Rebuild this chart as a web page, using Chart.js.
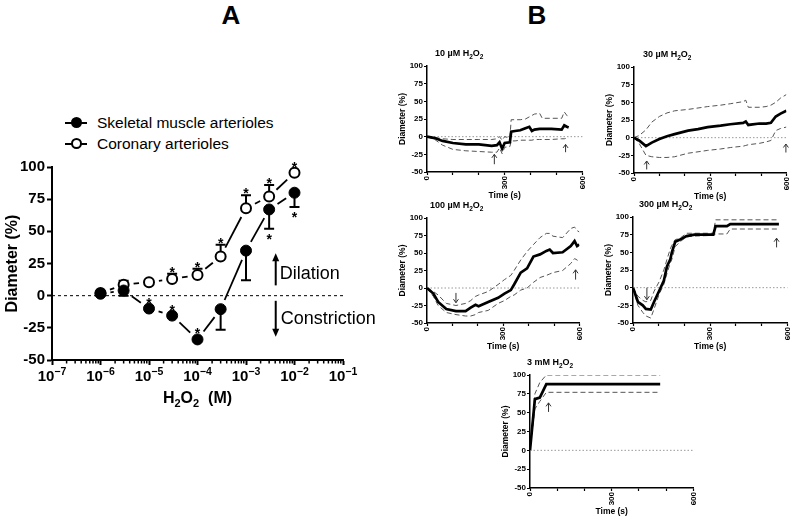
<!DOCTYPE html>
<html>
<head>
<meta charset="utf-8">
<script src="https://cdn.jsdelivr.net/npm/chart.js@4"></script>
<style>
  html, body { margin: 0; padding: 0; background: #fff; }
  body { width: 798px; height: 521px; position: relative; overflow: hidden; font-family: "Liberation Sans", Arial, sans-serif; color: #000; }
  .box { position: absolute; }
  .letter { position: absolute; top: 0; width: 40px; text-align: center; font-weight: bold; font-size: 26px; line-height: 30px; }
  .legend { position: absolute; left: 65px; top: 112px; font-size: 15.5px; }
  .legend .row { position: relative; height: 21px; line-height: 21px; padding-left: 32px; white-space: nowrap; }
  .legend .ln { position: absolute; left: 0; top: 9.5px; width: 22px; height: 2px; background: #000; }
  .legend .dot { position: absolute; left: 5.5px; top: 5px; width: 11px; height: 11px; border-radius: 50%; box-sizing: border-box; }
  .legend .filled { background: #000; }
  .legend .open { background: #fff; border: 2px solid #000; }
</style>
</head>
<body>
<div class="letter" style="left:211px;">A</div>
<div class="letter" style="left:517px;">B</div>

<div class="legend">
  <div class="row"><span class="ln"></span><span class="dot filled"></span>Skeletal muscle arterioles</div>
  <div class="row"><span class="ln"></span><span class="dot open"></span>Coronary arterioles</div>
</div>

<div class="box" style="left:0px; top:150px;"><canvas id="doseChart" width="400" height="265"></canvas></div>
<div class="box" id="box10"><canvas id="c10"></canvas></div>
<div class="box" id="box30"><canvas id="c30"></canvas></div>
<div class="box" id="box100"><canvas id="c100"></canvas></div>
<div class="box" id="box300"><canvas id="c300"></canvas></div>
<div class="box" id="box3m"><canvas id="c3m"></canvas></div>

<script>
// ---- Panel A data ----
const concentrations = [1e-6, 3e-6, 1e-5, 3e-5, 1e-4, 3e-4, 1e-3, 3e-3, 1e-2];
const skeletalMean = [1.5, 4, -10, -15.5, -34, -10.5, 35, 67, 80];
const skeletalErr = [0, 4, 0, 0, 0, 16, 23, 15, 11];
const skeletalStars = ['', '', 'above', 'above', 'above', '', '', 'below', 'below'];
const coronaryMean = [2, 8.5, 10.5, 13, 16, 30.5, 68, 77, 95.5];
const coronaryErr = [0, 3, 0, 4, 5, 9, 10, 9, 0];
const coronaryStars = ['', '', '', 'above', 'above', 'above', 'above', 'above', 'above'];
const decadeTicks = [1e-7, 1e-6, 1e-5, 1e-4, 1e-3, 1e-2, 1e-1];

// ---- Panel B data (time in s, diameter in %) ----
const times10 = [0, 30, 60, 100, 150, 200, 250, 270, 280, 290, 300, 320, 325, 340, 360, 380, 395, 405, 415, 435, 445, 480, 520, 530, 540, 547];
const mean10  = [0, -2, -6, -9, -11, -11, -13, -12, -8, -17, -9, -8, 7, 8, 9, 12, 14, 8, 10, 11, 11, 11, 10, 16, 14, 13];
const upper10 = [0, -1, -3, -4, -4, -4, -4, -3, 0, -5, 0, -2, 24, 24, 24, 25, 28, 30, 32, 33, 26, 26, 26, 35, 30, 27];
const lower10 = [0, -4, -12, -18, -20, -21, -22, -22, -16, -24, -15, -14, -6, -6, -5, -5, -5, -5, -4, -4, -4, -4, -3, -3, -2, -2];
const arrows10 = [{t: 260, tip: -25, base: -39}, {t: 535, tip: -11, base: -22}];

const times30 = [0, 20, 47, 70, 100, 130, 160, 213, 252, 290, 341, 379, 430, 440, 450, 494, 520, 539, 558, 577, 600];
const mean30  = [0, -4, -12, -7, -2, 2, 5, 10, 12, 15, 17, 19, 21, 23, 18, 20, 20, 21, 30, 34, 38];
const upper30 = [0, 3, 11, 22, 30, 35, 38, 40, 42, 44, 46, 48, 51, 53, 43, 43, 44, 46, 50, 56, 61];
const lower30 = [0, -8, -25, -27, -28, -28, -27, -22, -20, -18, -16, -14, -12, -11, -10, -8, -6, -4, 10, 13, 15];
const arrows30 = [{t: 50, tip: -33, base: -45}, {t: 598, tip: -9, base: -21}];

const times100 = [0, 25, 44, 76, 114, 152, 172, 191, 203, 241, 280, 305, 330, 343, 369, 394, 419, 445, 470, 483, 496, 534, 566, 581, 591, 600];
const mean100  = [0, -8, -20, -30, -33, -33, -28, -24, -26, -20, -14, -8, -3, 5, 22, 28, 45, 48, 53, 55, 50, 51, 60, 67, 60, 62];
const upper100 = [0, -5, -10, -22, -25, -22, -18, -12, -10, -5, 5, 12, 18, 25, 40, 52, 62, 72, 78, 78, 74, 72, 85, 87, 82, 80];
const lower100 = [0, -12, -25, -35, -38, -40, -40, -38, -35, -32, -22, -18, -12, -10, -3, 0, 8, 15, 18, 20, 22, 25, 35, 42, 40, 37];
const arrows100 = [{t: 114, tip: -21, base: -7}, {t: 585, tip: 26, base: 12}];

const times300 = [0, 19, 38, 50, 69, 82, 101, 120, 132, 145, 151, 164, 183, 208, 239, 312, 321, 365, 378, 567];
const mean300  = [0, -20, -25, -30, -31, -20, -5, 10, 30, 40, 50, 65, 68, 73, 75, 75, 87, 87, 90, 90];
const upper300 = [0, -12, -18, -20, -18, -5, 8, 25, 40, 55, 60, 68, 70, 77, 77, 77, 96, 96, 96, 96];
const lower300 = [0, -25, -35, -40, -43, -30, -10, 5, 20, 35, 40, 58, 65, 72, 73, 74, 76, 76, 83, 83];
const arrows300 = [{t: 54, tip: -17, base: 0}, {t: 558, tip: 70, base: 57}];

const times3m = [0, 18, 36, 60, 478];
const mean3m  = [0, 68, 70, 88, 88];
const upper3m = [0, 75, 90, 100, 100];
const lower3m = [0, 55, 65, 77, 77];
const arrows3m = [{t: 68, tip: 63, base: 51}];

const FONT = '"Liberation Sans", Arial, sans-serif';
Chart.defaults.font.family = FONT;
Chart.defaults.color = '#000';

function arrowHead(ctx, x, y, dir, w, h, filled) {
  ctx.beginPath();
  ctx.moveTo(x - w, y - dir * h);
  ctx.lineTo(x, y);
  ctx.lineTo(x + w, y - dir * h);
  if (filled) { ctx.closePath(); ctx.fill(); } else { ctx.stroke(); }
}

// draws a run of [text, shift] pieces from x (or centred on x); shift < 0 raises, > 0 lowers (smaller font)
function drawRich(ctx, pieces, x, baseline, size, smallSize, centred) {
  const widths = pieces.map(([t, s]) => {
    ctx.font = 'bold ' + (s ? smallSize : size) + 'px ' + FONT;
    return ctx.measureText(t).width;
  });
  let px = centred ? x - widths.reduce((a, b) => a + b, 0) / 2 : x;
  pieces.forEach(([t, s], i) => {
    ctx.font = 'bold ' + (s ? smallSize : size) + 'px ' + FONT;
    ctx.fillText(t, px, baseline + s);
    px += widths[i];
  });
}

// Lines, error bars, stars and annotations of panel A
const panelAExtras = {
  id: 'panelAExtras',
  beforeDatasetsDraw(chart) {
    const {ctx, chartArea, scales: {x, y}} = chart;
    ctx.save();
    ctx.strokeStyle = '#000';
    ctx.lineWidth = 1;
    ctx.setLineDash([3, 3]);
    const y0 = y.getPixelForValue(0);
    ctx.beginPath();
    ctx.moveTo(chartArea.left, y0);
    ctx.lineTo(chartArea.right, y0);
    ctx.stroke();
    ctx.setLineDash([]);

    chart.data.datasets.forEach((ds, i) => {
      const pts = chart.getDatasetMeta(i).data;
      // connecting segments that stop short of the markers
      ctx.lineWidth = 1.8;
      for (let k = 1; k < pts.length; k++) {
        const a = pts[k - 1], b = pts[k];
        const dx = b.x - a.x, dy = b.y - a.y, len = Math.hypot(dx, dy);
        const gap = 10;
        if (len <= 2 * gap + 1) continue;
        const ux = dx / len, uy = dy / len;
        ctx.beginPath();
        ctx.moveTo(a.x + ux * gap, a.y + uy * gap);
        ctx.lineTo(b.x - ux * gap, b.y - uy * gap);
        ctx.stroke();
      }
      // one-sided error bars
      ctx.lineWidth = 2;
      ds.data.forEach((p, k) => {
        const err = ds.errors[k];
        if (!err) return;
        const px = x.getPixelForValue(p.x);
        const yEnd = y.getPixelForValue(p.y + ds.errSign * err);
        ctx.beginPath();
        ctx.moveTo(px, y.getPixelForValue(p.y));
        ctx.lineTo(px, yEnd);
        ctx.moveTo(px - 5, yEnd);
        ctx.lineTo(px + 5, yEnd);
        ctx.stroke();
      });
    });
    ctx.restore();
  },
  afterDatasetsDraw(chart) {
    const {ctx, chartArea, scales: {x, y}} = chart;
    ctx.save();
    ctx.fillStyle = '#000';
    ctx.strokeStyle = '#000';
    ctx.font = 'bold 14px ' + FONT;
    ctx.textAlign = 'center';
    ctx.textBaseline = 'alphabetic';
    chart.data.datasets.forEach(ds => {
      ds.data.forEach((p, k) => {
        const where = ds.stars[k];
        if (!where) return;
        const px = x.getPixelForValue(p.x);
        let cy;
        if (where === 'above') {
          const err = ds.errSign > 0 ? ds.errors[k] : 0;
          cy = err ? y.getPixelForValue(p.y + err) - 5 : y.getPixelForValue(p.y) - 9;
        } else {
          const err = ds.errSign < 0 ? ds.errors[k] : 0;
          cy = err ? y.getPixelForValue(p.y - err) + 7 : y.getPixelForValue(p.y) + 9;
        }
        ctx.fillText('*', px, cy + 8);
      });
    });

    // dilation / constriction arrows
    const ax = x.getPixelForValue(4.1e-3);
    ctx.lineWidth = 2;
    const upFrom = y.getPixelForValue(8), upTo = y.getPixelForValue(33);
    ctx.beginPath(); ctx.moveTo(ax, upFrom); ctx.lineTo(ax, upTo + 6); ctx.stroke();
    arrowHead(ctx, ax, upTo, -1, 3.5, 8, true);
    const dnFrom = y.getPixelForValue(-4), dnTo = y.getPixelForValue(-32);
    ctx.beginPath(); ctx.moveTo(ax, dnFrom); ctx.lineTo(ax, dnTo - 6); ctx.stroke();
    arrowHead(ctx, ax, dnTo, 1, 3.5, 8, true);

    ctx.font = '18px ' + FONT;
    ctx.textAlign = 'left';
    ctx.textBaseline = 'middle';
    ctx.fillText('Dilation', ax + 4, y.getPixelForValue(17));
    ctx.fillText('Constriction', ax + 5, y.getPixelForValue(-18));

    // minor log ticks
    ctx.lineWidth = 1.5;
    const yb = chartArea.bottom;
    for (let e = -7; e <= -2; e++) {
      for (let m = 2; m <= 9; m++) {
        const px = x.getPixelForValue(m * Math.pow(10, e));
        ctx.beginPath(); ctx.moveTo(px, yb); ctx.lineTo(px, yb + 3.5); ctx.stroke();
      }
    }

    // decade labels with raised exponents, and the axis title with subscripts
    ctx.textAlign = 'left';
    ctx.textBaseline = 'alphabetic';
    x.ticks.forEach(t => {
      const e = String(Math.round(Math.log10(t.value))).replace('-', '\u2212');
      drawRich(ctx, [['10', 0], [e, -6]], x.getPixelForValue(t.value), yb + 21, 15, 10.5, true);
    });
    drawRich(ctx, [['H', 0], ['2', 4], ['O', 0], ['2', 4], ['  (M)', 0]], (chartArea.left + chartArea.right) / 2, yb + 43, 16, 11, true);
    ctx.restore();
  }
};

new Chart(document.getElementById('doseChart'), {
  type: 'scatter',
  data: {
    datasets: [
      {
        label: 'Skeletal muscle arterioles',
        data: concentrations.map((c, i) => ({x: c, y: skeletalMean[i]})),
        errors: skeletalErr, errSign: -1, stars: skeletalStars,
        pointRadius: 5.5, pointBackgroundColor: '#000', pointBorderColor: '#000', pointBorderWidth: 1,
        showLine: false
      },
      {
        label: 'Coronary arterioles',
        data: concentrations.map((c, i) => ({x: c, y: coronaryMean[i]})),
        errors: coronaryErr, errSign: 1, stars: coronaryStars,
        pointRadius: 5, pointBackgroundColor: '#fff', pointBorderColor: '#000', pointBorderWidth: 2,
        showLine: false
      }
    ]
  },
  options: {
    responsive: false,
    animation: false,
    layout: { padding: { left: 0, top: 17, right: 57, bottom: 0 } },
    plugins: { legend: { display: false }, tooltip: { enabled: false } },
    scales: {
      x: {
        type: 'logarithmic',
        min: 1e-7, max: 1e-1,
        afterBuildTicks: scale => { scale.ticks = decadeTicks.map(v => ({value: v})); },
        afterFit: scale => { scale.height = 55; },
        grid: { drawOnChartArea: false, drawTicks: true, tickLength: 5, tickWidth: 2, color: '#000' },
        border: { display: true, color: '#000', width: 2 },
        ticks: { display: false },
        title: { display: false, text: 'H\u2082O\u2082 (M)' }
      },
      y: {
        min: -50, max: 100,
        afterFit: scale => { scale.width = 52; },
        grid: { drawOnChartArea: false, drawTicks: true, tickLength: 5, tickWidth: 2, color: '#000' },
        border: { display: true, color: '#000', width: 2 },
        ticks: { stepSize: 25, padding: 2, font: { size: 15, weight: 'bold' } },
        title: { display: true, text: 'Diameter (%)', font: { size: 16, weight: 'bold' }, padding: { top: 3, bottom: 0 } }
      }
    }
  },
  plugins: [panelAExtras]
});

// Zero line, caption and stimulus arrows of the time course panels
const timeExtras = {
  id: 'timeExtras',
  beforeDatasetsDraw(chart) {
    const {ctx, chartArea, scales: {y}} = chart;
    ctx.save();
    ctx.strokeStyle = '#999';
    ctx.lineWidth = 1;
    ctx.setLineDash([1.5, 2]);
    const y0 = y.getPixelForValue(0);
    ctx.beginPath(); ctx.moveTo(chartArea.left, y0); ctx.lineTo(chartArea.right, y0); ctx.stroke();
    ctx.restore();
  },
  afterDatasetsDraw(chart, args, opts) {
    const {ctx, chartArea, scales: {x, y}} = chart;
    ctx.save();
    ctx.fillStyle = '#000';
    ctx.textAlign = 'left';
    ctx.textBaseline = 'alphabetic';
    drawRich(ctx, [[opts.dose + ' H', 0], ['2', 2.5], ['O', 0], ['2', 2.5]], chartArea.left + opts.captionDx, chartArea.top - 10, 9, 6.5, false);
    ctx.strokeStyle = '#333';
    ctx.lineWidth = 1;
    opts.arrows.forEach(a => {
      const px = x.getPixelForValue(a.t);
      const tip = y.getPixelForValue(a.tip), base = y.getPixelForValue(a.base);
      ctx.beginPath(); ctx.moveTo(px, base); ctx.lineTo(px, tip); ctx.stroke();
      arrowHead(ctx, px, tip, tip < base ? -1 : 1, 2.5, 3.5, false);
    });
    ctx.restore();
  }
};

const YW = 32, PT = 28, PR = 6, XH = 40;
function makeTimeChart(id, area, dose, captionDx, times, mean, upper, lower, arrows) {
  const box = document.getElementById('box' + id);
  const canvas = document.getElementById('c' + id);
  const w = area.right - area.left, h = area.bottom - area.top;
  box.style.left = (area.left - YW) + 'px';
  box.style.top = (area.top - PT) + 'px';
  canvas.width = YW + w + PR;
  canvas.height = PT + h + XH;
  const band = {borderColor: '#555', borderWidth: 1, borderDash: [5, 3], pointRadius: 0, tension: 0, fill: false};
  new Chart(canvas, {
    type: 'line',
    data: {
      datasets: [
        {label: 'Mean', data: times.map((t, i) => ({x: t, y: mean[i]})), borderColor: '#000', borderWidth: 2.7, pointRadius: 0, tension: 0, fill: false},
        Object.assign({label: 'Upper', data: times.map((t, i) => ({x: t, y: upper[i]}))}, band),
        Object.assign({label: 'Lower', data: times.map((t, i) => ({x: t, y: lower[i]}))}, band)
      ]
    },
    options: {
      responsive: false,
      animation: false,
      layout: { padding: { left: 0, top: PT, right: PR, bottom: 0 } },
      plugins: { legend: { display: false }, tooltip: { enabled: false }, timeExtras: { dose: dose, captionDx: captionDx, arrows: arrows } },
      scales: {
        x: {
          type: 'linear', min: 0, max: 600,
          afterFit: scale => { scale.height = XH; },
          grid: { drawOnChartArea: false, tickLength: 3, tickWidth: 1.2, color: '#000' },
          border: { color: '#000', width: 1.5 },
          ticks: { stepSize: 100, autoSkip: false, minRotation: 90, maxRotation: 90, padding: 1,
                   callback: v => (v % 300 === 0 ? v : ''), font: { size: 8, weight: 'bold' } },
          title: { display: true, text: 'Time (s)', font: { size: 8.5, weight: 'bold' }, padding: { top: 0, bottom: 11 } }
        },
        y: {
          min: -50, max: 100,
          afterFit: scale => { scale.width = YW; },
          grid: { drawOnChartArea: false, tickLength: 3, tickWidth: 1.2, color: '#000' },
          border: { color: '#000', width: 1.5 },
          ticks: { stepSize: 25, padding: 1, font: { size: 8, weight: 'bold' } },
          title: { display: true, text: 'Diameter (%)', font: { size: 8.5, weight: 'bold' }, padding: { top: 3, bottom: 0 } }
        }
      }
    },
    plugins: [timeExtras]
  });
}

makeTimeChart('10', {left: 427, right: 587, top: 66, bottom: 172}, '10 \u00B5M', 8, times10, mean10, upper10, lower10, arrows10);
makeTimeChart('30', {left: 634, right: 791, top: 67, bottom: 173}, '30 \u00B5M', 9, times30, mean30, upper30, lower30, arrows30);
makeTimeChart('100', {left: 427, right: 584, top: 218, bottom: 323}, '100 \u00B5M', 3, times100, mean100, upper100, lower100, arrows100);
makeTimeChart('300', {left: 633, right: 792, top: 217, bottom: 323}, '300 \u00B5M', 6, times300, mean300, upper300, lower300, arrows300);
makeTimeChart('3m', {left: 530, right: 698, top: 375, bottom: 488}, '3 mM', -3, times3m, mean3m, upper3m, lower3m, arrows3m);
</script>
</body>
</html>
